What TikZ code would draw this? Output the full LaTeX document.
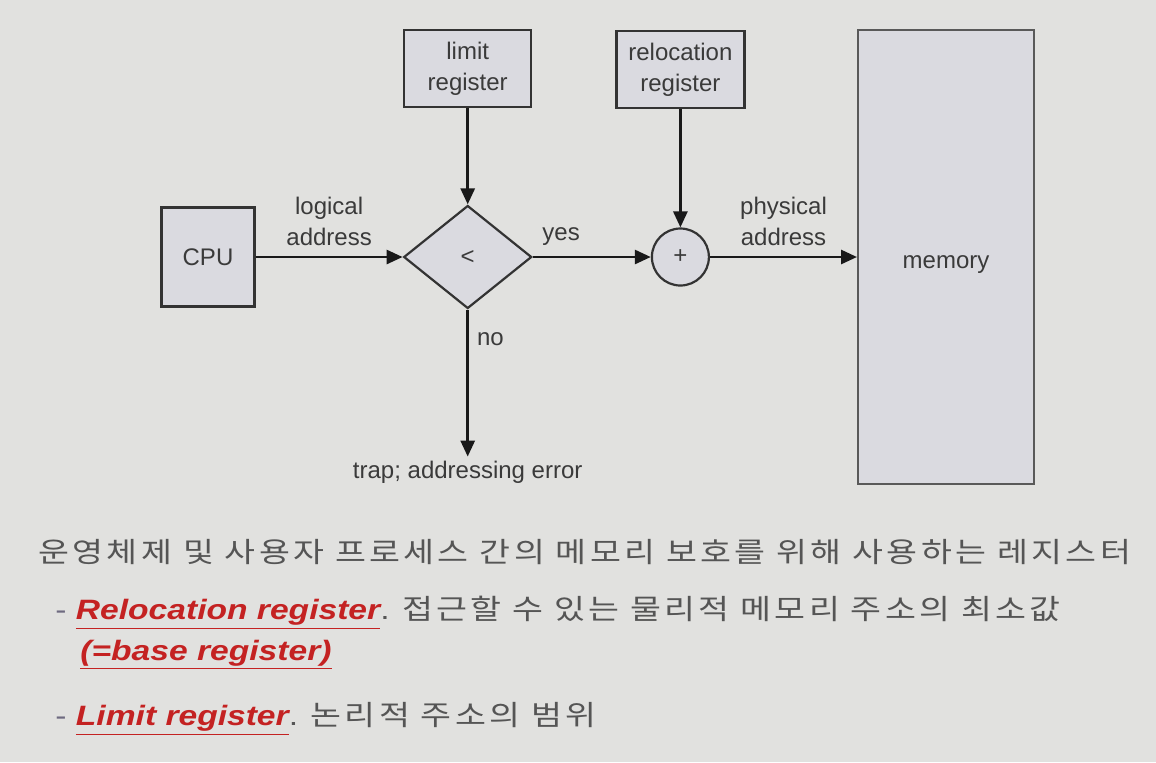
\documentclass[tikz,border=0pt]{standalone}
\usepackage{fontspec}
\setmainfont{Liberation Sans}
\newfontfamily\krfont[FakeStretch=1.2,LetterSpace=12]{Noto Sans CJK KR}
\newfontfamily\notefont[FakeStretch=1.2]{Liberation Sans}
\usepackage{xcolor}
\usetikzlibrary{arrows.meta, positioning, shapes.geometric}
\definecolor{slidebg}{HTML}{E1E1DF}
\definecolor{boxfill}{HTML}{DADAE0}
\definecolor{inkgray}{HTML}{3A3A3A}
\definecolor{krgray}{HTML}{555555}
\definecolor{dashgray}{HTML}{6E6A80}
\definecolor{hlred}{HTML}{C42222}

\begin{document}
\begin{tikzpicture}[
                font=\fontsize{12}{15.5}\selectfont,
                text=inkgray,
                box/.style={draw=black!80, fill=boxfill, line width=1.1pt, inner sep=0pt, align=center},
                check/.style={diamond, draw=black!80, fill=boxfill, line width=1.1pt, inner sep=0pt, minimum width=64pt, minimum height=51.5pt},
                adder/.style={circle, draw=black!80, fill=boxfill, line width=1.1pt, inner sep=0pt, minimum size=28.5pt},
                flow/.style={line width=1.4pt, draw=black!90, -{Triangle[length=8pt, width=7pt]}},
                note/.style={anchor=west, inner sep=0pt, font=\notefont\fontsize{14}{17}\selectfont},
                kr/.style={font=\krfont\fontsize{14}{17}\selectfont},
            ]

                % Slide
                \fill[slidebg] (0,0) rectangle (578pt,-381pt);

                % Boxes
                \node[box, minimum width=46.5pt, minimum height=49.5pt] (cpu) at (104pt,-128.5pt) {CPU};
                \node[check, right=73.5pt of cpu] (cmp) {<};
                \node[box, minimum width=63.5pt, minimum height=38.5pt, above=48pt of cmp] (limit) {limit\\register};
                \node[adder, right=59pt of cmp] (add) {+};
                \node[box, minimum width=64pt, minimum height=38.5pt, above=59pt of add] (reloc) {relocation\\register};
                \node[box, draw=black!65, line width=1pt, minimum width=88pt, minimum height=227pt, right=73.5pt of add] (mem) {};
                \node[inner sep=0pt] (memtext) at ([yshift=-4pt]mem.center) {memory};
                \coordinate[below=73.5pt of cmp] (trap);

                % Connections
                \draw[flow] (cpu) -- node[above, align=center, inner sep=5pt] {logical\\address} (cmp);
                \draw[flow] (limit) -- (cmp);
                \draw[flow] (cmp) -- node[above, pos=.24, inner sep=5pt] {yes} (add);
                \draw[flow] (reloc) -- (add);
                \draw[flow] (add) -- node[above, align=center, inner sep=5pt] {physical\\address} (mem);
                \draw[flow] (cmp) -- node[right, pos=.2, inner sep=4pt] {no} (trap);
                \node[below=2pt of trap, inner sep=0pt] (err) {trap; addressing error};

                % Notes
                \node[note, kr, text=krgray] (intro) at (19pt,-276pt) {운영체제 및 사용자 프로세스 간의 메모리 보호를 위해 사용하는 레지스터};
                \node[note] (relocnote) at (27.5pt,-306.5pt) {\textcolor{dashgray}{- }\textcolor{hlred}{\bfseries\itshape\underline{Relocation register}}\textcolor{krgray}{. {\krfont\fontsize{14}{17}\selectfont 접근할 수 있는 물리적 메모리 주소의 최소값}}};
                \node[note, text=hlred] (basenote) at (40pt,-327.5pt) {\bfseries\itshape\underline{(=base register)}};
                \node[note] (limitnote) at (27.5pt,-359.5pt) {\textcolor{dashgray}{- }\textcolor{hlred}{\bfseries\itshape\underline{Limit register}}\textcolor{krgray}{. {\krfont\fontsize{14}{17}\selectfont 논리적 주소의 범위}}};
            \end{tikzpicture}
\end{document}
